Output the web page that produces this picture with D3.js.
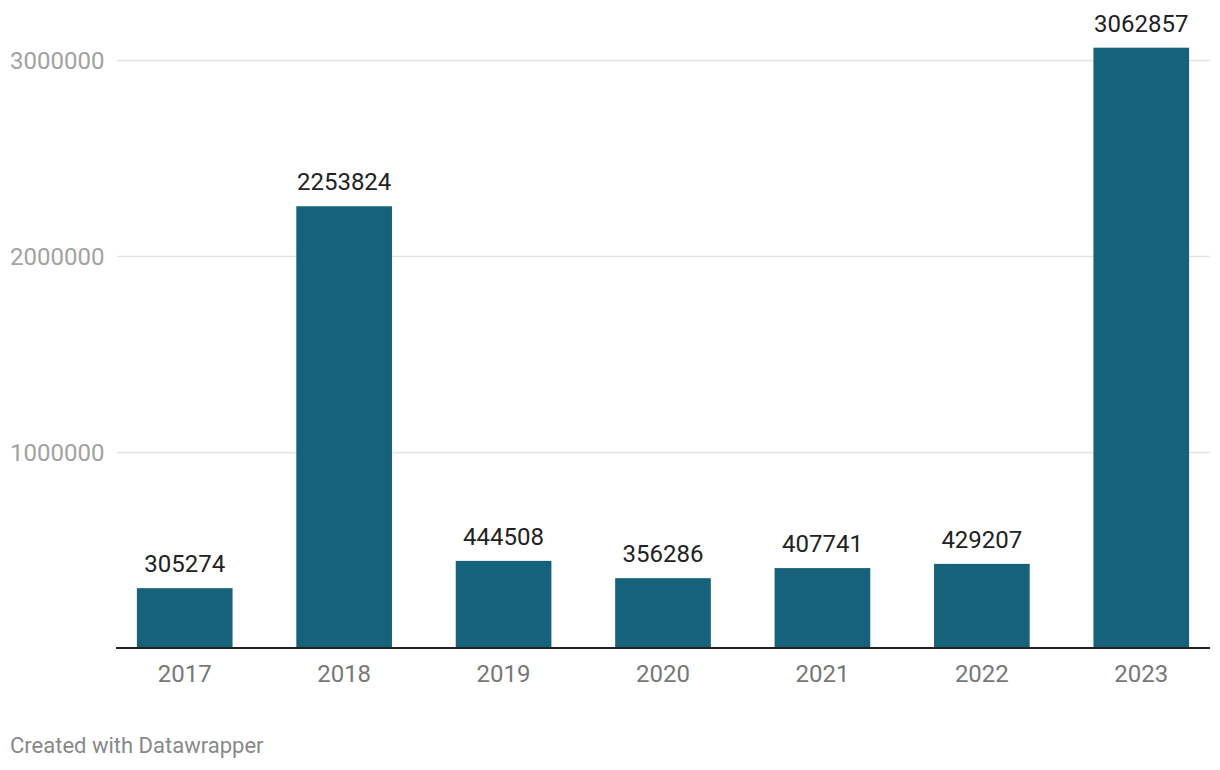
<!DOCTYPE html>
<html>
<head>
<meta charset="utf-8">
<script src="https://cdn.jsdelivr.net/npm/d3@7"></script>
<style>
html,body{margin:0;padding:0;background:#fff;}
svg{display:block;font-family:Roboto, sans-serif;}
</style>
</head>
<body>
<svg id="chart" width="1220" height="770"></svg>
<script>
const categories = ["2017","2018","2019","2020","2021","2022","2023"];
const values = [305274, 2253824, 444508, 356286, 407741, 429207, 3062857];
const yTicks = [1000000, 2000000, 3000000];
const tickLabels = ["1000000","2000000","3000000"];

const svg = d3.select("#chart");
const y = d3.scaleLinear().domain([0, 3000000]).range([648, 60]);
const x = d3.scaleBand().domain(categories).range([105, 1221]).paddingInner(0.4).paddingOuter(0.2);

// gridlines
svg.append("g").selectAll("line").data(yTicks).join("line")
  .attr("x1", 117).attr("x2", 1210)
  .attr("y1", d => Math.round(y(d)) + 0.5).attr("y2", d => Math.round(y(d)) + 0.5)
  .attr("stroke", "#e3e3e3").attr("stroke-width", 1.5);

// y labels
svg.append("g").selectAll("text").data(yTicks).join("text")
  .attr("x", 10).attr("y", d => y(d))
  .attr("dy", "0.36em")
  .attr("font-size", 24).attr("fill", "#a2a2a2")
  .text((d, i) => tickLabels[i]);

// bars
svg.append("g").selectAll("rect").data(values).join("rect")
  .attr("x", (d, i) => x(categories[i]))
  .attr("width", x.bandwidth())
  .attr("y", d => y(d))
  .attr("height", d => y(0) - y(d))
  .attr("fill", "#16627b");

// value labels
svg.append("g").selectAll("text").data(values).join("text")
  .attr("x", (d, i) => x(categories[i]) + x.bandwidth() / 2)
  .attr("y", d => y(d) - 16)
  .attr("text-anchor", "middle")
  .attr("font-size", 24).attr("fill", "#222")
  .text(d => d);

// x axis line
svg.append("line")
  .attr("x1", 116).attr("x2", 1210)
  .attr("y1", 648).attr("y2", 648)
  .attr("stroke", "#222").attr("stroke-width", 2);

// x labels
svg.append("g").selectAll("text").data(categories).join("text")
  .attr("x", d => x(d) + x.bandwidth() / 2)
  .attr("y", 682)
  .attr("text-anchor", "middle")
  .attr("font-size", 24).attr("fill", "#777")
  .text(d => d);

// footer
svg.append("text")
  .attr("x", 10).attr("y", 753)
  .attr("font-size", 22).attr("fill", "#888")
  .text("Created with Datawrapper");
</script>
</body>
</html>
